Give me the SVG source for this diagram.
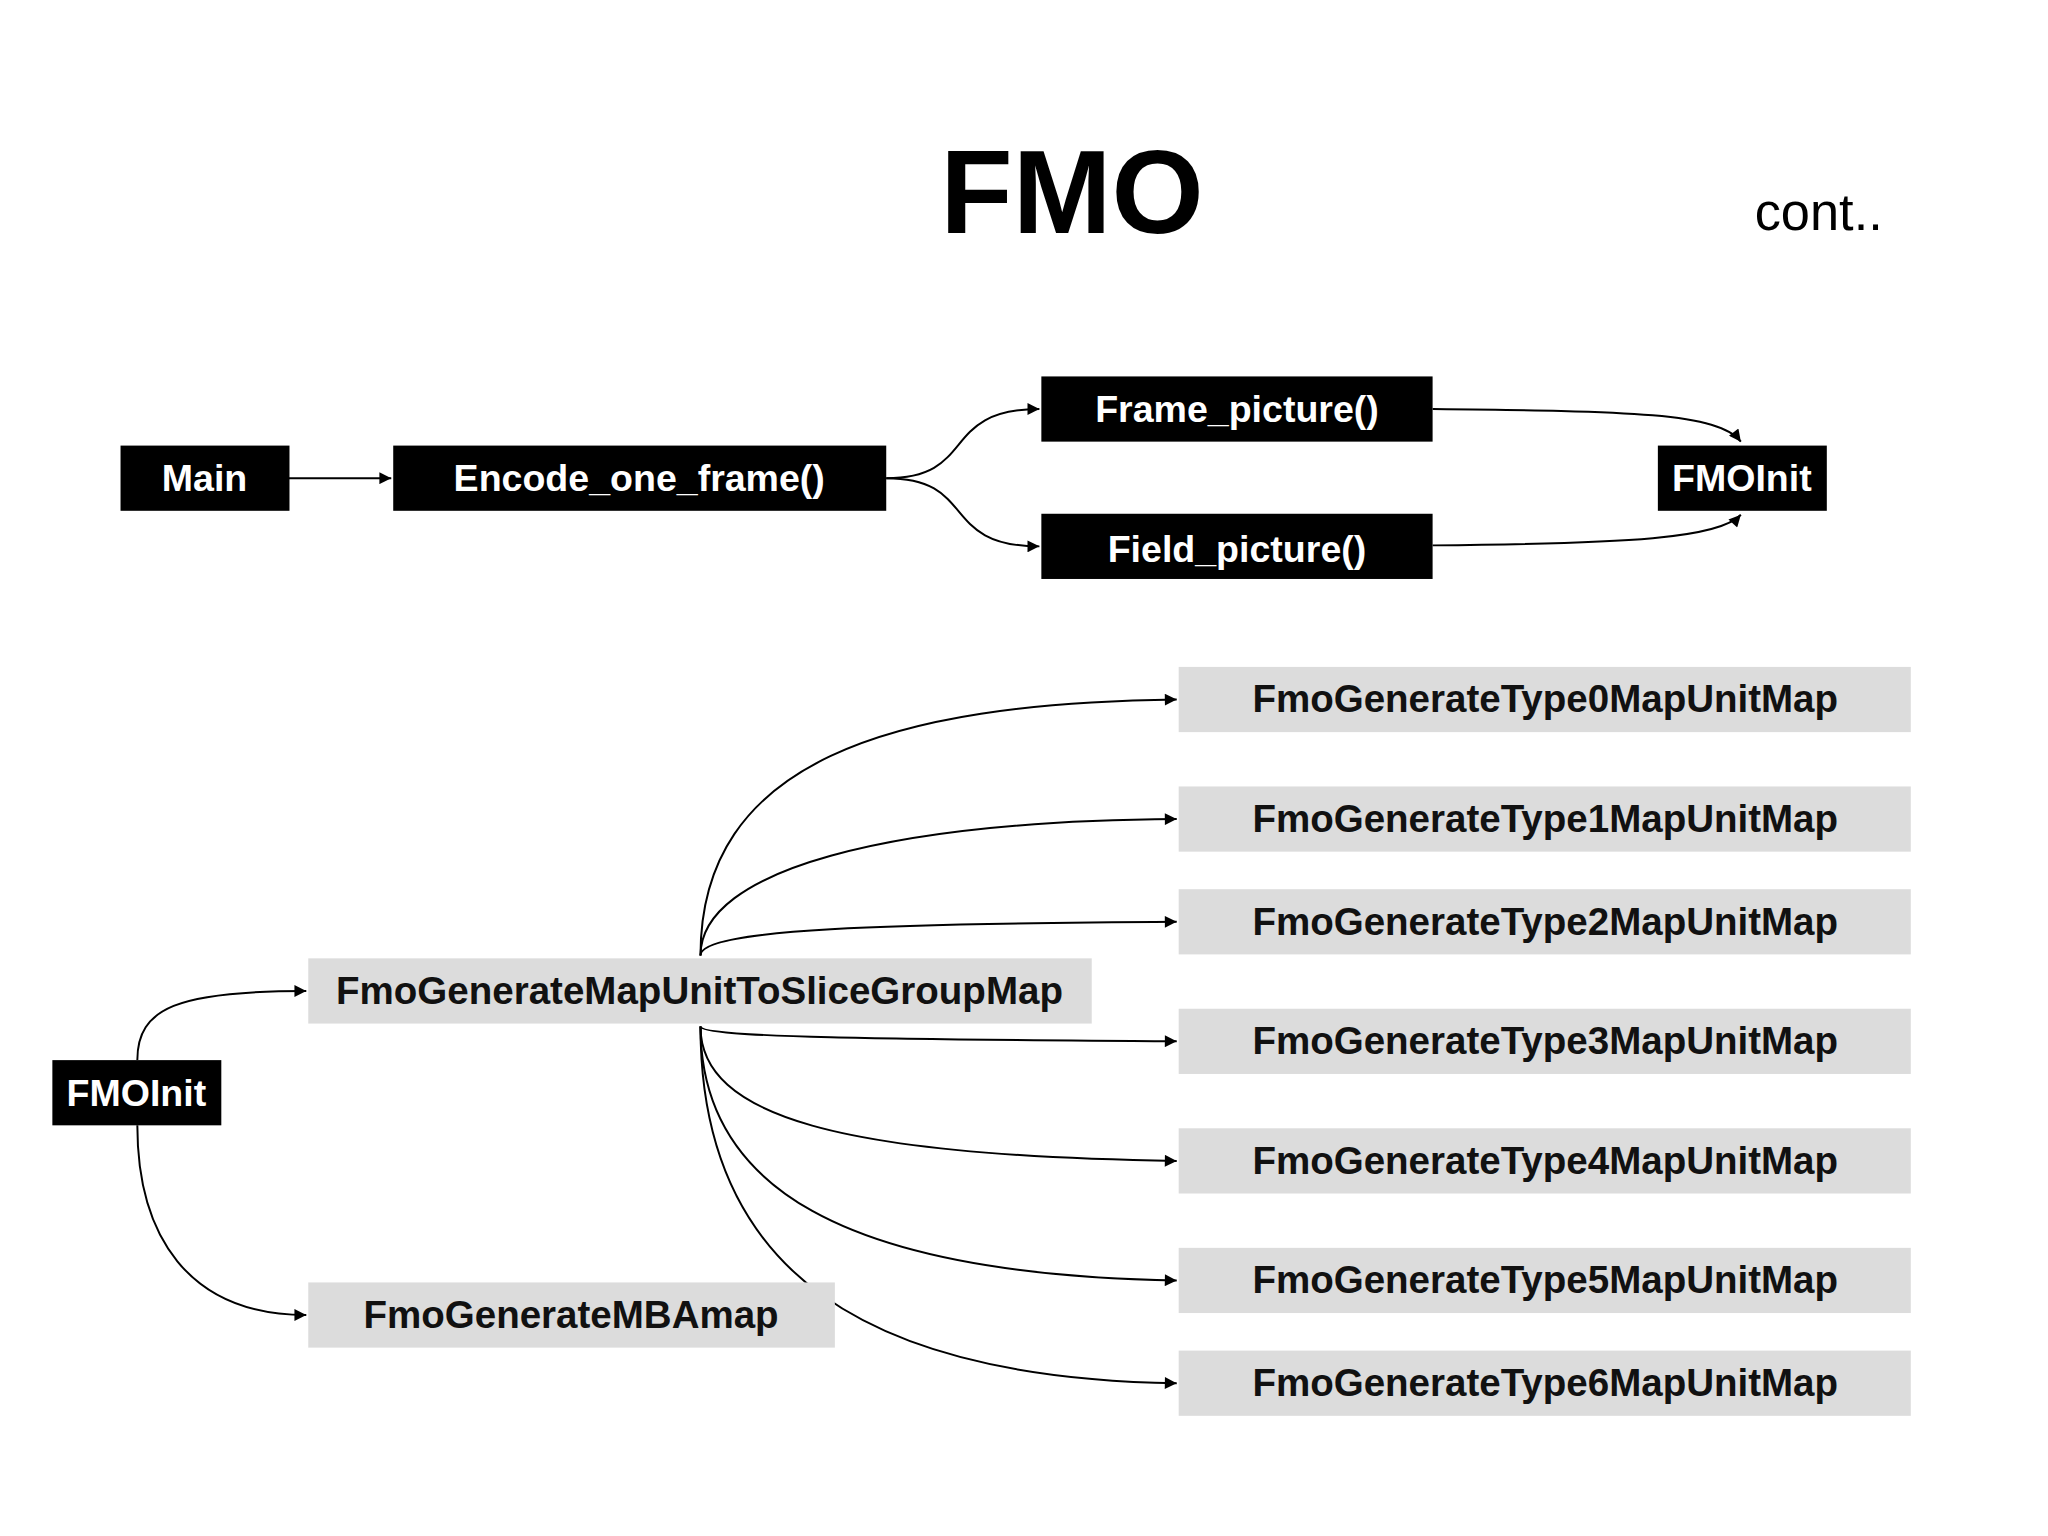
<svg xmlns="http://www.w3.org/2000/svg" width="2048" height="1536" viewBox="0 0 2048 1536">
<style>
.b{fill:#000}.g{fill:#dcdcdc}
.wt{fill:#fff;font-family:"Liberation Sans",Arial,sans-serif;font-weight:bold;font-size:38px;text-anchor:middle}
.gt{fill:#111;font-family:"Liberation Sans",Arial,sans-serif;font-weight:bold;font-size:39px;text-anchor:middle}
.c path{fill:none;stroke:#000;stroke-width:2;marker-end:url(#a)}
</style>
<defs><marker id="a" viewBox="0 0 10 10" refX="10" refY="5" markerWidth="14" markerHeight="12" markerUnits="userSpaceOnUse" orient="auto"><path d="M0,0L10,5L0,10z" fill="#000"/></marker></defs>
<rect width="2048" height="1536" fill="#fff"/>
<g transform="scale(0.988)">
<text x="1085" y="236" font-family="Liberation Sans,Arial,sans-serif" font-weight="bold" font-size="120" text-anchor="middle">FMO</text>
<text x="1776" y="233" font-family="Liberation Sans,Arial,sans-serif" font-size="53">cont..</text>
<g class="c">
<path d="M292,484H396"/>
<path d="M897,484C990,484 950,414 1052,414"/>
<path d="M897,484C990,484 950,553 1052,553"/>
<path d="M1450,414C1650,416 1740,418 1762,447"/>
<path d="M1450,552C1650,550 1740,545 1762,521"/>
<path d="M139,1073C139,1020 180,1003 310,1003"/>
<path d="M139,1139C139,1250 190,1331 310,1331"/>
<path d="M709,967C709,770 900,712 1191,708"/>
<path d="M709,967C709,880 900,831 1191,829"/>
<path d="M709,967C709,940 900,935 1191,933"/>
<path d="M709,1039C709,1050 900,1052 1191,1054"/>
<path d="M709,1039C709,1130 850,1170 1191,1175"/>
<path d="M709,1039C709,1200 850,1290 1191,1296"/>
<path d="M709,1039C709,1290 880,1395 1191,1400"/>
</g>
<g id="main"><rect class="b" x="122" y="451" width="171" height="66"/><text class="wt" x="207" y="497">Main</text></g>
<g id="encode"><rect class="b" x="398" y="451" width="499" height="66"/><text class="wt" x="647" y="497">Encode_one_frame()</text></g>
<g id="frame"><rect class="b" x="1054" y="381" width="396" height="66"/><text class="wt" x="1252" y="427">Frame_picture()</text></g>
<g id="field"><rect class="b" x="1054" y="520" width="396" height="66"/><text class="wt" x="1252" y="569" font-size="46">Field_picture()</text></g>
<g id="fmoinit1"><rect class="b" x="1678" y="451" width="171" height="66"/><text class="wt" x="1763" y="497">FMOInit</text></g>
<g id="fmoinit2"><rect class="b" x="53" y="1073" width="171" height="66"/><text class="wt" x="138" y="1119">FMOInit</text></g>
<g id="slicemap"><rect class="g" x="312" y="970" width="793" height="66"/><text class="gt" x="708" y="1016">FmoGenerateMapUnitToSliceGroupMap</text></g>
<g id="mbamap"><rect class="g" x="312" y="1298" width="533" height="66"/><text class="gt" x="578" y="1344">FmoGenerateMBAmap</text></g>
<g id="t0"><rect class="g" x="1193" y="675" width="741" height="66"/><text class="gt" x="1564" y="721">FmoGenerateType0MapUnitMap</text></g>
<g id="t1"><rect class="g" x="1193" y="796" width="741" height="66"/><text class="gt" x="1564" y="842">FmoGenerateType1MapUnitMap</text></g>
<g id="t2"><rect class="g" x="1193" y="900" width="741" height="66"/><text class="gt" x="1564" y="946">FmoGenerateType2MapUnitMap</text></g>
<g id="t3"><rect class="g" x="1193" y="1021" width="741" height="66"/><text class="gt" x="1564" y="1067">FmoGenerateType3MapUnitMap</text></g>
<g id="t4"><rect class="g" x="1193" y="1142" width="741" height="66"/><text class="gt" x="1564" y="1188">FmoGenerateType4MapUnitMap</text></g>
<g id="t5"><rect class="g" x="1193" y="1263" width="741" height="66"/><text class="gt" x="1564" y="1309">FmoGenerateType5MapUnitMap</text></g>
<g id="t6"><rect class="g" x="1193" y="1367" width="741" height="66"/><text class="gt" x="1564" y="1413">FmoGenerateType6MapUnitMap</text></g>
</g>
</svg>
